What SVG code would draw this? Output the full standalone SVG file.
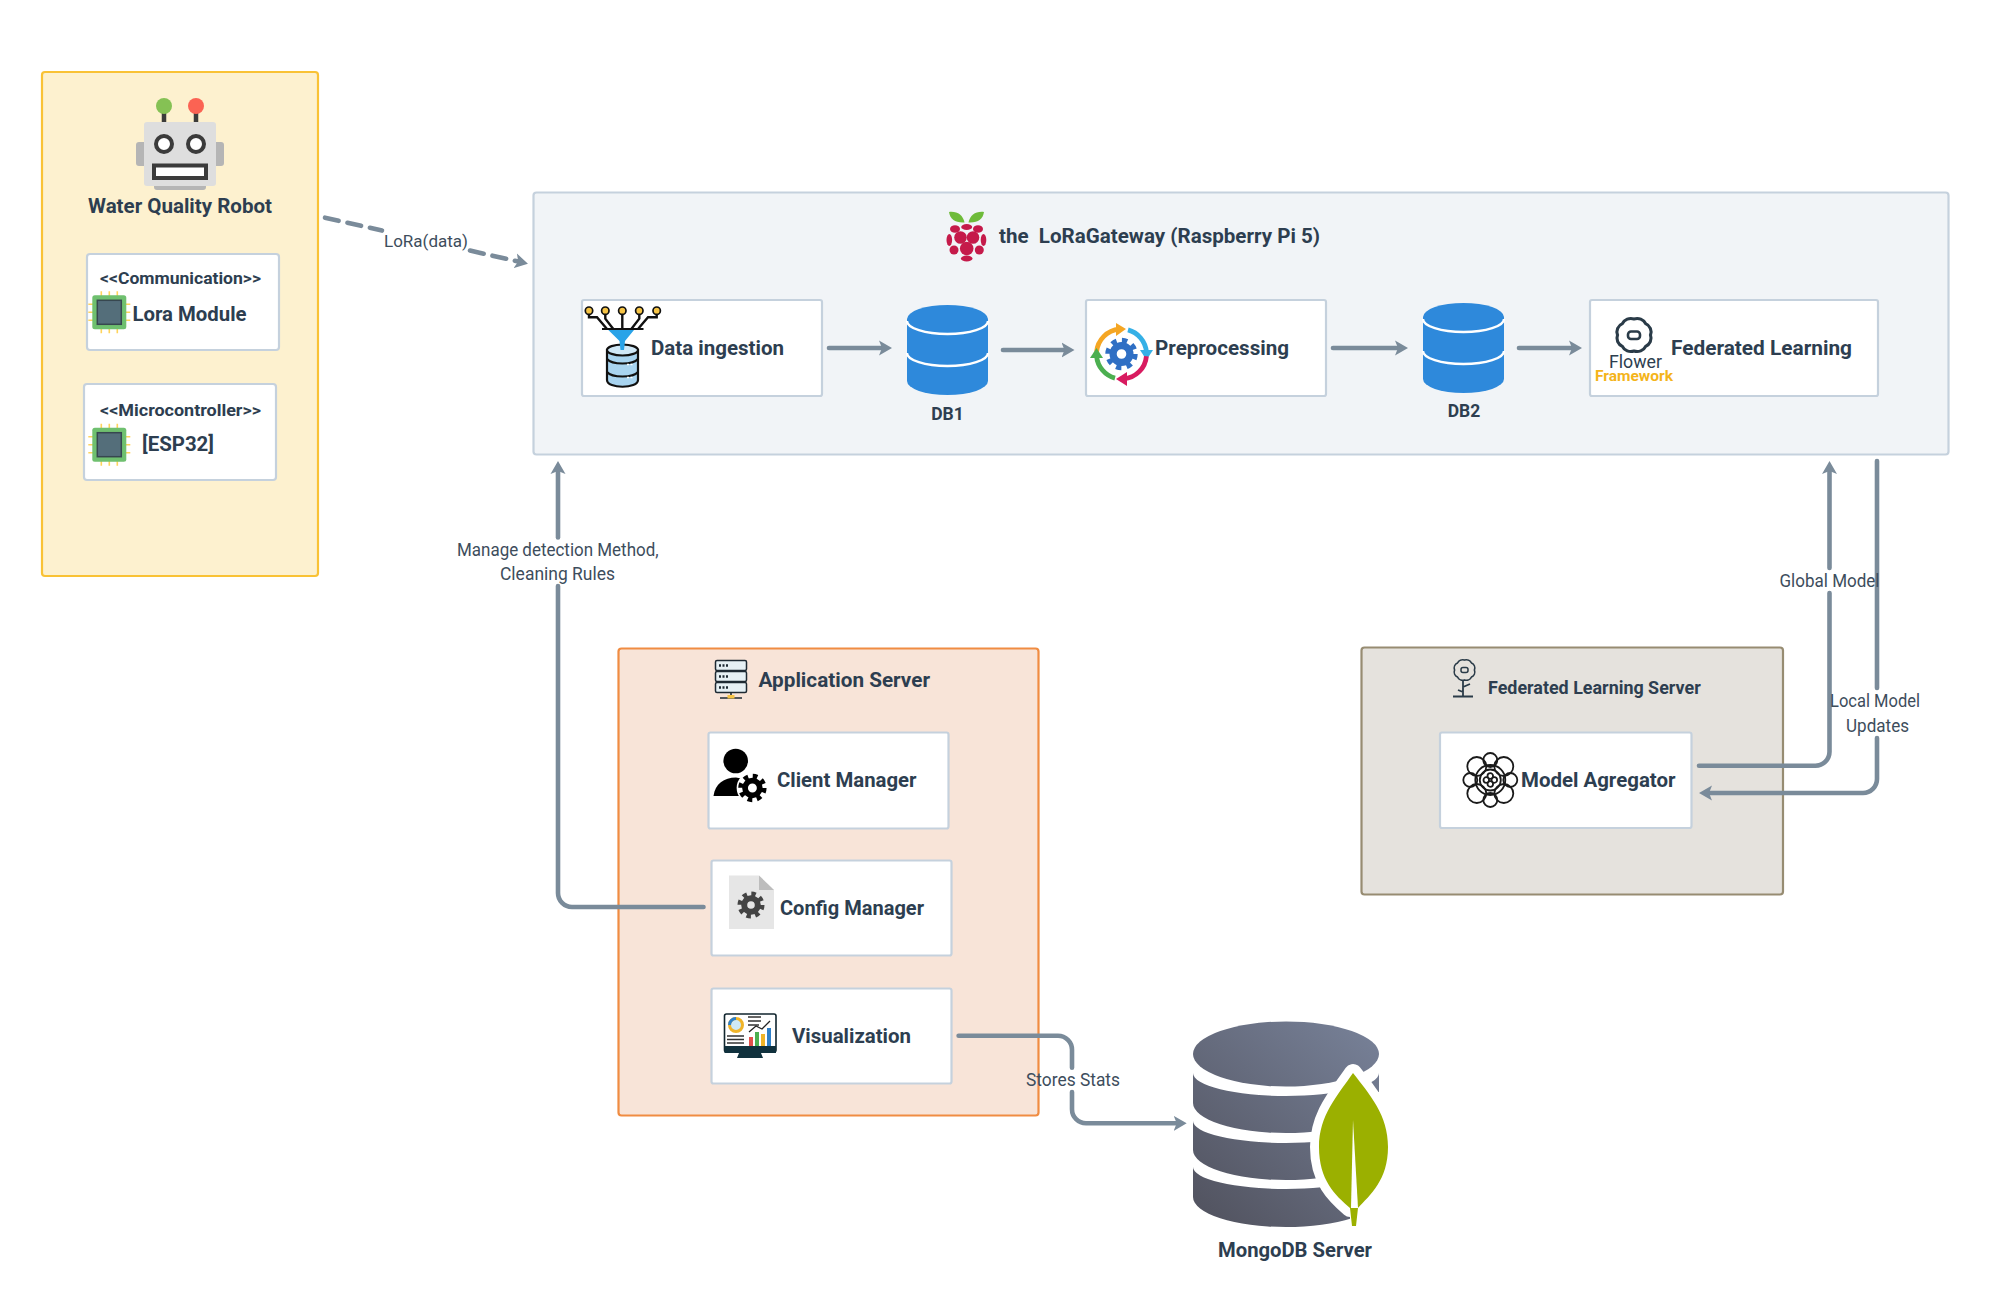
<svg xmlns="http://www.w3.org/2000/svg" width="2003" height="1309" viewBox="0 0 2003 1309">
<style>
text{font-family:"Roboto","Liberation Sans",sans-serif;fill:#2d3e50}
.b{font-weight:700}
.r{font-weight:400;fill:#3d4d5c}
.card{fill:#fff;stroke:#c5d1dd;stroke-width:2.2}
.flow{fill:none;stroke:#7a8b9a;stroke-width:4.6;stroke-linecap:round;stroke-linejoin:round}
.k{fill:none;stroke:#1a1a1a;stroke-width:1.8}
</style>
<defs>
<marker id="ah" markerUnits="userSpaceOnUse" markerWidth="14" markerHeight="16" refX="3" refY="8" orient="auto"><path d="M0 0.500L13 8L0 15.500L3 8Z" fill="#7a8b9a"/></marker>
<linearGradient id="mg" gradientUnits="userSpaceOnUse" x1="1379" y1="1022" x2="1193" y2="1227"><stop offset="0" stop-color="#788299"/><stop offset="1" stop-color="#50515d"/></linearGradient>
<g id="chip">
<path d="M-21 -8H21M-21 0H21M-21 8H21M-8 -21V21M0 -21V21M8 -21V21" stroke="#ffd45c" stroke-width="1.600" fill="none"/>
<rect x="-17" y="-17" width="34" height="34" rx="2.500" fill="#6fc06f"/>
<rect x="-12" y="-12" width="24" height="24" fill="#546e7a" stroke="#37474f" stroke-width="1.500"/>
</g>
<g id="dbcyl">
<path d="M-40.500 14A40.500 14 0 0 1 40.500 14V76A40.500 14 0 0 1 -40.500 76Z" fill="#2e89db"/>
<path d="M-40.500 16A40.500 13 0 0 0 40.500 16M-40.500 48A40.500 13 0 0 0 40.500 48" fill="none" stroke="#fff" stroke-width="2.400"/>
</g>
<path id="scallop" d="M16 0A9 9 0 0 1 11.300 11.300A9 9 0 0 1 0 16A9 9 0 0 1 -11.300 11.300A9 9 0 0 1 -16 0A9 9 0 0 1 -11.300 -11.300A9 9 0 0 1 0 -16A9 9 0 0 1 11.300 -11.300A9 9 0 0 1 16 0Z" fill="none" stroke="#2a3b48"/>
<circle id="teeth" r="11" fill="none" stroke-width="5" stroke-dasharray="4.320 4.320"/>
</defs>

<g id="robot-box">
<rect x="42" y="72" width="276" height="504" rx="3" fill="#fdf1cf" stroke="#f9c235" stroke-width="2.200"/>
<g id="robot-icon">
<path d="M164 112V124M196 112V124" stroke="#3b3b3b" stroke-width="4.500"/>
<circle cx="164" cy="106" r="8" fill="#85c154"/><circle cx="196" cy="106" r="8" fill="#fb6353"/>
<rect x="136" y="142" width="88" height="24" rx="3" fill="#b5b5b5"/>
<rect x="154" y="182" width="52" height="8" rx="3" fill="#b5b5b5"/>
<rect x="144" y="122" width="72" height="64" rx="3" fill="#dedede"/>
<circle cx="164" cy="144" r="8" fill="#fff" stroke="#3b3b3b" stroke-width="4"/><circle cx="196" cy="144" r="8" fill="#fff" stroke="#3b3b3b" stroke-width="4"/>
<rect x="154" y="165.500" width="52" height="12.500" fill="#fff" stroke="#3b3b3b" stroke-width="4"/>
</g>
<text class="b" x="88" y="212.500" font-size="21" textLength="184" lengthAdjust="spacingAndGlyphs">Water Quality Robot</text>
</g>
<g id="lora-module">
<rect class="card" x="87" y="254" width="192" height="96" rx="3"/>
<text class="b" x="100" y="284" font-size="16.500" textLength="161" lengthAdjust="spacingAndGlyphs">&lt;&lt;Communication&gt;&gt;</text>
<use href="#chip" x="109.300" y="312.300"/>
<text class="b" x="132.500" y="320.700" font-size="20.500" textLength="114" lengthAdjust="spacingAndGlyphs">Lora Module</text>
</g>
<g id="esp32">
<rect class="card" x="84" y="384" width="192" height="96" rx="3"/>
<text class="b" x="100" y="415.700" font-size="16.500" textLength="161" lengthAdjust="spacingAndGlyphs">&lt;&lt;Microcontroller&gt;&gt;</text>
<use href="#chip" x="109.300" y="444.700"/>
<text class="b" x="142" y="451" font-size="20" textLength="72" lengthAdjust="spacingAndGlyphs">[ESP32]</text>
</g>

<g id="gateway">
<rect x="533.500" y="192.500" width="1415" height="262" rx="3" fill="#f1f4f7" stroke="#c5d1dd" stroke-width="2.200"/>
<g id="raspberry-icon">
<path d="M964.500 222.500C955 223 950 219 949 212C957 211 963 215 964.500 222.500Z" fill="#6ebb3a"/>
<path d="M968.500 222.500C978 223 983 219 984 212C976 211 970 215 968.500 222.500Z" fill="#6ebb3a"/>
<g fill="#c51a4a">
<ellipse cx="955" cy="229" rx="5" ry="3.800"/><ellipse cx="966.700" cy="227" rx="5.500" ry="3"/><ellipse cx="978" cy="229" rx="5" ry="3.800"/>
<circle cx="960.500" cy="237.500" r="6.300"/><circle cx="973" cy="237.500" r="6.300"/>
<ellipse cx="949.300" cy="240" rx="2.800" ry="6"/><ellipse cx="983.500" cy="240" rx="2.800" ry="6"/>
<circle cx="966.700" cy="248.500" r="6.800"/><circle cx="954" cy="250" r="4.500"/><circle cx="979.300" cy="250" r="4.500"/>
<ellipse cx="966.700" cy="258.500" rx="5.800" ry="3"/>
</g>
</g>
<text class="b" x="999" y="242.500" font-size="20" textLength="321" lengthAdjust="spacingAndGlyphs" xml:space="preserve">the  LoRaGateway (Raspberry Pi 5)</text>
</g>

<g id="data-ingestion">
<rect class="card" x="582" y="300" width="240" height="96" rx="2"/>
<g id="ingest-icon">
<path d="M589 314V317.300H597L607 329M605.300 314V318.700L613.300 329M622.300 314V329M639.300 314V318.700L631.300 329M656.700 314V317.300H648L638 329" fill="none" stroke="#111" stroke-width="2.400"/>
<g fill="#f6c445" stroke="#111" stroke-width="1.700"><circle cx="589" cy="310.700" r="3.700"/><circle cx="605.300" cy="310.700" r="3.700"/><circle cx="622.300" cy="310.700" r="3.700"/><circle cx="639.300" cy="310.700" r="3.700"/><circle cx="656.700" cy="310.700" r="3.700"/></g>
<path d="M607 350V380C607 389 638 389 638 380V350Z" fill="#a8d4f0" stroke="#111" stroke-width="2.200"/>
<ellipse cx="622.500" cy="350" rx="15.500" ry="5.500" fill="#cfe8f7" stroke="#111" stroke-width="2.200"/>
<path d="M607 359C612 365 633 365 638 359M607 372C612 378 633 378 638 372" fill="none" stroke="#111" stroke-width="2"/>
<path d="M627 364.500H634M627 377.500H634" stroke="#fff" stroke-width="1.600" stroke-dasharray="2 1.500"/>
<path d="M602 329H643.500" stroke="#111" stroke-width="2"/>
<path d="M608.300 330H634L625 341L624 350H620.500L619.500 341Z" fill="#29a3e8"/>
</g>
<text class="b" x="651" y="355" font-size="20.500" textLength="133" lengthAdjust="spacingAndGlyphs">Data ingestion</text>
</g>
<g id="db1">
<use href="#dbcyl" x="947.500" y="305"/>
<text class="b" x="947.500" y="420" font-size="17.500" text-anchor="middle">DB1</text>
</g>
<g id="preprocessing">
<rect class="card" x="1086" y="300" width="240" height="96" rx="2"/>
<g id="prep-icon" fill="none" stroke-width="4.800">
<path d="M1096.600 351.800A25 25 0 0 1 1119.300 329.100" stroke="#f5a623"/><path d="M1116 323L1126 329L1116 336Z" fill="#f5a623"/>
<path d="M1128 329.900A25 25 0 0 1 1146.400 351.800" stroke="#35b0e6"/><path d="M1140 350H1153L1146.500 360Z" fill="#35b0e6"/>
<path d="M1146.400 356.200A25 25 0 0 1 1123.700 378.900" stroke="#d81b60"/><path d="M1127 372V386L1116 379Z" fill="#d81b60"/>
<path d="M1115 378.100A25 25 0 0 1 1096.600 356.200" stroke="#4caf50"/><path d="M1090 358H1103L1096.500 348Z" fill="#4caf50"/>
<g transform="translate(1121.500 354) scale(1.200)"><use href="#teeth" stroke="#2f6fc4"/><circle r="7" fill="#fff" stroke="#2f6fc4" stroke-width="6"/></g>
</g>
<text class="b" x="1155" y="355" font-size="20.500" textLength="134" lengthAdjust="spacingAndGlyphs">Preprocessing</text>
</g>
<g id="db2">
<use href="#dbcyl" x="1463.500" y="303"/>
<text class="b" x="1464" y="417" font-size="17.500" text-anchor="middle">DB2</text>
</g>
<g id="federated-learning">
<rect class="card" x="1590" y="300" width="288" height="96" rx="2"/>
<g id="flower-icon">
<use href="#scallop" transform="translate(1634 335) scale(1.030 1)" stroke-width="3"/>
<rect x="1628" y="331.500" width="12" height="7.500" rx="3" fill="none" stroke="#2a3b48" stroke-width="2.600"/>
<text x="1635.500" y="368" font-size="18" text-anchor="middle" textLength="53" lengthAdjust="spacingAndGlyphs">Flower</text>
<text class="b" x="1634" y="381" font-size="14.500" text-anchor="middle" textLength="78" lengthAdjust="spacingAndGlyphs" style="fill:#f4b41a">Framework</text>
</g>
<text class="b" x="1671" y="355" font-size="20.500" textLength="181" lengthAdjust="spacingAndGlyphs">Federated Learning</text>
</g>

<g id="application-server">
<rect x="618.500" y="648.500" width="420" height="467" rx="3" fill="#f8e4d8" stroke="#f08c42" stroke-width="2.200"/>
<g id="server-icon">
<g fill="#e6f0f4" stroke="#1e2a33" stroke-width="1.500"><rect x="715.500" y="660.500" width="31" height="10" rx="1.500"/><rect x="715.500" y="671.500" width="31" height="10" rx="1.500"/><rect x="715.500" y="682.500" width="31" height="10" rx="1.500"/></g>
<path d="M719 665.500H728M719 676.500H728M719 687.500H728" stroke="#1e2a33" stroke-width="2.400" stroke-dasharray="2 1.500"/>
<path d="M731 692.500V697M720 698H742" stroke="#1e2a33" stroke-width="1.600" fill="none"/>
<rect x="727.500" y="695" width="7" height="3.500" fill="#f6c445"/>
</g>
<text class="b" x="758.500" y="687" font-size="20" textLength="171.500" lengthAdjust="spacingAndGlyphs">Application Server</text>
</g>
<g id="client-manager">
<rect class="card" x="708.500" y="732.500" width="240" height="96" rx="2"/>
<g id="client-icon">
<circle cx="735.700" cy="761" r="12.300" fill="#000"/>
<path d="M713.500 796C715 784 724 777.500 736 777.500L744 779L742 796Z" fill="#000"/>
<g transform="translate(752.400 788) scale(1.050)"><circle r="15" fill="#fff"/><use href="#teeth" stroke="#000"/><circle r="7" fill="#fff" stroke="#000" stroke-width="5.500"/></g>
</g>
<text class="b" x="777" y="787" font-size="20.500" textLength="139.500" lengthAdjust="spacingAndGlyphs">Client Manager</text>
</g>
<g id="config-manager">
<rect class="card" x="711.500" y="860.500" width="240" height="95" rx="2"/>
<g id="config-icon">
<path d="M729 875.500H759L774 890V929H729Z" fill="#e6e6e6"/>
<path d="M759 875.500V890H774Z" fill="#bdbdbd"/>
<g transform="translate(751 905)"><use href="#teeth" stroke="#444"/><circle r="6.800" fill="#e6e6e6" stroke="#444" stroke-width="6"/></g>
</g>
<text class="b" x="780" y="915" font-size="20.500" textLength="144" lengthAdjust="spacingAndGlyphs">Config Manager</text>
</g>
<g id="visualization">
<rect class="card" x="711.500" y="988.500" width="240" height="95" rx="2"/>
<g id="vis-icon">
<rect x="724.500" y="1014" width="51.500" height="38" rx="2" fill="#fff" stroke="#10252e" stroke-width="1.600"/>
<rect x="724.500" y="1046" width="51.500" height="7" fill="#10313d"/>
<path d="M739 1053H761L763 1058H737Z" fill="#10313d"/>
<circle cx="736" cy="1025" r="6.500" fill="#cfe9f5" stroke="#f0b429" stroke-width="3"/><path d="M736 1018.500A6.500 6.500 0 0 0 729.500 1025" fill="none" stroke="#2f80c9" stroke-width="3"/>
<path d="M748 1017H761M748 1021H761M748 1025H759M727 1036H744M727 1039.500H744M727 1043H744" stroke="#333" stroke-width="1.300"/>
<rect x="749" y="1037" width="4" height="9" fill="#e2504a"/><rect x="755" y="1032" width="4" height="14" fill="#4caf50"/><rect x="761" y="1034" width="4" height="12" fill="#f0b429"/><rect x="767" y="1028" width="4" height="18" fill="#2f80c9"/>
<path d="M749 1032L756 1026L762 1029L770 1021" fill="none" stroke="#222" stroke-width="1.300"/>
</g>
<text class="b" x="792" y="1043" font-size="20.500" textLength="119" lengthAdjust="spacingAndGlyphs">Visualization</text>
</g>

<g id="federated-learning-server">
<rect x="1361.500" y="647.500" width="421.500" height="247" rx="3" fill="#e5e2dd" stroke="#978c72" stroke-width="2.200"/>
<g id="fl-flower-icon">
<use href="#scallop" transform="translate(1464.500 670) scale(0.620 0.620)" stroke-width="2.600"/>
<rect x="1461" y="667.500" width="7" height="5" rx="2" fill="none" stroke="#2a3b48" stroke-width="1.500"/>
<path d="M1463 680V696M1463 687L1470 684M1463 692L1458 690M1453 696.500H1473" fill="none" stroke="#2a3b48" stroke-width="1.800"/>
</g>
<text class="b" x="1488" y="694" font-size="17.500" textLength="212.700" lengthAdjust="spacingAndGlyphs">Federated Learning Server</text>
</g>
<g id="model-agregator">
<rect class="card" x="1440" y="732.500" width="251.500" height="95.500" rx="2"/>
<g id="atom-icon" class="k" transform="translate(1490.300 780)">
<circle cx="20" r="7"/><circle cy="20" r="7"/><circle cx="-20" r="7"/><circle cy="-20" r="7"/>
<circle cx="13.500" cy="13.500" r="9.500"/><circle cx="-13.500" cy="13.500" r="9.500"/><circle cx="-13.500" cy="-13.500" r="9.500"/><circle cx="13.500" cy="-13.500" r="9.500"/>
<circle r="15"/><circle r="10.500"/>
<circle cx="4" r="2.800"/><circle cx="-4" r="2.800"/><circle cy="4" r="2.800"/><circle cy="-4" r="2.800"/>
</g>
<text class="b" x="1521" y="786.700" font-size="20.500" textLength="154.500" lengthAdjust="spacingAndGlyphs">Model Agregator</text>
</g>

<g id="mongodb-server">
<ellipse cx="1286" cy="1054" rx="93" ry="32.500" fill="url(#mg)"/>
<path d="M1193 1073A93 23 0 0 0 1379 1073V1103A93 30 0 0 1 1193 1103Z" fill="url(#mg)"/>
<path d="M1193 1121A93 22 0 0 0 1379 1121V1150A93 30 0 0 1 1193 1150Z" fill="url(#mg)"/>
<path d="M1193 1167A93 22 0 0 0 1379 1167V1197A93 30 0 0 1 1193 1197Z" fill="url(#mg)"/>
<rect x="1350" y="1092" width="45" height="140" fill="#fff"/>
<path d="M1353 1073C1370 1095 1388 1115 1388 1147C1388 1180 1370 1195 1358 1208H1350C1335 1195 1319 1180 1319 1147C1319 1115 1338 1095 1353 1073Z" fill="#fff" stroke="#fff" stroke-width="18" stroke-linejoin="round"/>
<path d="M1353 1073C1370 1095 1388 1115 1388 1147C1388 1180 1370 1195 1358 1208L1356 1226H1352L1350 1208C1335 1195 1319 1180 1319 1147C1319 1115 1338 1095 1353 1073Z" fill="#9bb000"/>
<path d="M1353 1120L1358 1208H1351Z" fill="#fff"/>
<text class="b" x="1218" y="1257" font-size="20.500" textLength="154" lengthAdjust="spacingAndGlyphs">MongoDB Server</text>
</g>

<g id="connectors">
<path class="flow" stroke-dasharray="14 9" d="M325 217.700L382 230.600"/>
<path class="flow" stroke-dasharray="14 9" marker-end="url(#ah)" d="M470 250.600L518.200 261.500"/>
<path class="flow" marker-end="url(#ah)" d="M829 348H882"/>
<path class="flow" marker-end="url(#ah)" d="M1003 350H1064.500"/>
<path class="flow" marker-end="url(#ah)" d="M1333 348H1398"/>
<path class="flow" marker-end="url(#ah)" d="M1519 348H1572"/>
<path class="flow" d="M703.500 907H572A14 14 0 0 1 558 893V586"/>
<path class="flow" marker-end="url(#ah)" d="M558 537.500V471"/>
<path class="flow" d="M958.600 1035.700H1058A14 14 0 0 1 1072 1049.700V1067.700"/>
<path class="flow" marker-end="url(#ah)" d="M1072 1092V1109.300A14 14 0 0 0 1086 1123.300H1176.700"/>
<path class="flow" d="M1699 765.700H1815.500A14 14 0 0 0 1829.500 751.700V593"/>
<path class="flow" marker-end="url(#ah)" d="M1829.500 568V471"/>
<path class="flow" d="M1877 461V688"/>
<path class="flow" marker-end="url(#ah)" d="M1877 738V779A14 14 0 0 1 1863 793H1709"/>
<text class="r" x="384" y="247" font-size="17" textLength="84" lengthAdjust="spacingAndGlyphs">LoRa(data)</text>
<text class="r" x="457" y="556" font-size="17.500" textLength="201.600" lengthAdjust="spacingAndGlyphs">Manage detection Method,</text>
<text class="r" x="500" y="580" font-size="17.500" textLength="115" lengthAdjust="spacingAndGlyphs">Cleaning Rules</text>
<text class="r" x="1026" y="1086" font-size="17.500" textLength="94" lengthAdjust="spacingAndGlyphs">Stores Stats</text>
<text class="r" x="1779.500" y="586.700" font-size="17.500" textLength="100" lengthAdjust="spacingAndGlyphs">Global Model</text>
<text class="r" x="1830" y="707" font-size="17.500" textLength="90" lengthAdjust="spacingAndGlyphs">Local Model</text>
<text class="r" x="1846" y="732" font-size="17.500" textLength="63" lengthAdjust="spacingAndGlyphs">Updates</text>
</g>
</svg>
